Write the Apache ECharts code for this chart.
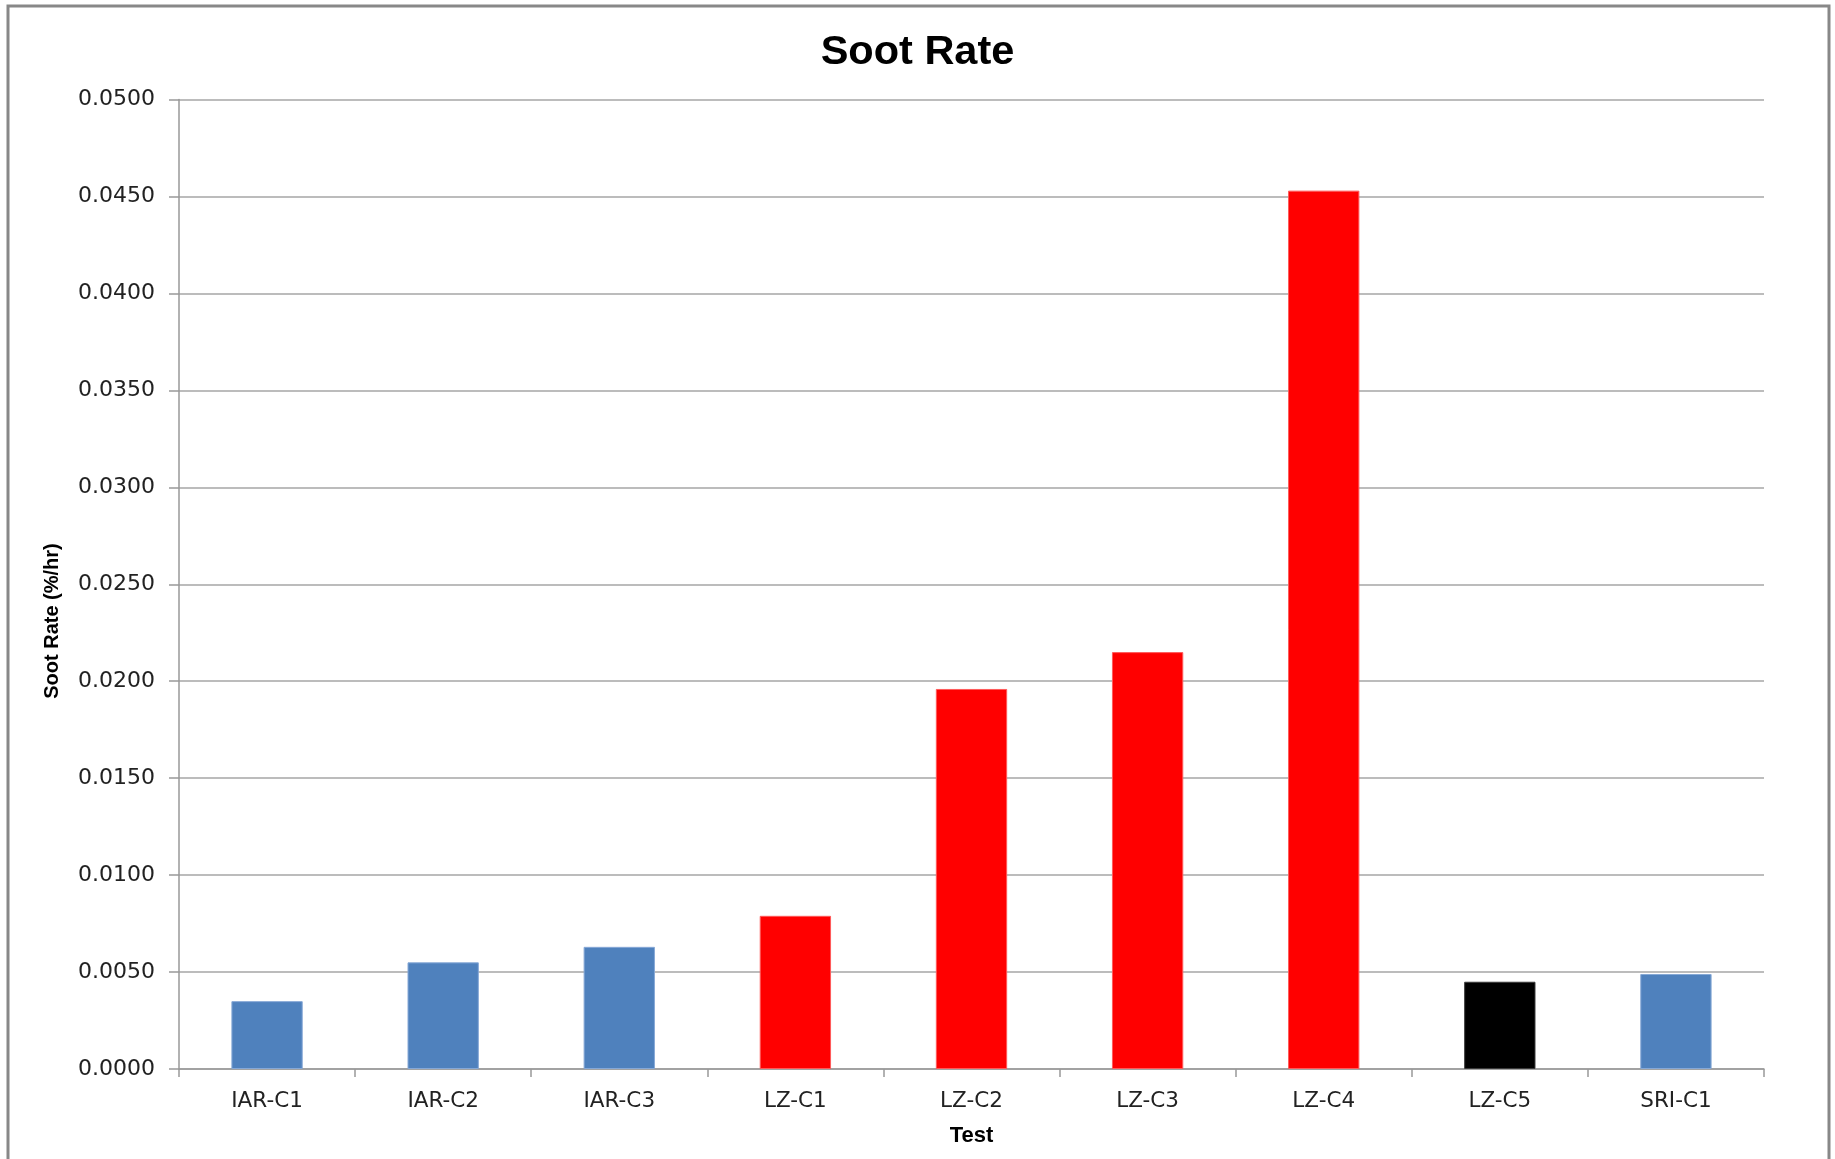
<!DOCTYPE html>
<html>
<head>
<meta charset="utf-8">
<title>Soot Rate</title>
<script src="https://cdn.jsdelivr.net/npm/echarts@6/dist/echarts.min.js"></script>
<style>
  html, body { margin: 0; padding: 0; background: #ffffff; }
  #chart { width: 1835px; height: 1159px; }
</style>
</head>
<body>
<div id="chart"></div>
<script>
// Test identifiers along the x axis
const categories = ['IAR-C1', 'IAR-C2', 'IAR-C3', 'LZ-C1', 'LZ-C2', 'LZ-C3', 'LZ-C4', 'LZ-C5', 'SRI-C1'];
// Soot rate per test (%/hr)
const sootRate = [0.0035, 0.0055, 0.0063, 0.0079, 0.0196, 0.0215, 0.0453, 0.0045, 0.0049];
// Fill group per test: IAR/SRI blue, LZ C1–C4 red, LZ-C5 black
const barGroup = ['blue', 'blue', 'blue', 'red', 'red', 'red', 'red', 'black', 'blue'];
// Y axis range
const yMin = 0;
const yMax = 0.05;
const yStep = 0.005;

const palette = {
  blue:  { fill: '#4F81BD', edge: '#86A8D6' },
  red:   { fill: '#FF0000', edge: '#FF5A5A' },
  black: { fill: '#000000', edge: '#3A3A3A' }
};

const chart = echarts.init(document.getElementById('chart'), null, { renderer: 'canvas' });

const option = {
  backgroundColor: '#ffffff',
  animation: false,
  title: {
    text: 'Soot Rate',
    left: 'center',
    top: 27,
    textStyle: {
      fontFamily: 'Liberation Sans',
      fontWeight: 'bold',
      fontSize: 41.5,
      color: '#000000'
    }
  },
  grid: {
    left: 179,
    right: 71,
    top: 99.5,
    bottom: 90
  },
  xAxis: {
    type: 'category',
    data: categories,
    name: 'Test',
    nameLocation: 'middle',
    nameGap: 56,
    nameTextStyle: {
      fontFamily: 'Liberation Sans',
      fontWeight: 'bold',
      fontSize: 22,
      color: '#000000'
    },
    axisLine: { lineStyle: { color: '#999999', width: 1.5 } },
    axisTick: { show: true, alignWithLabel: false, length: 8, lineStyle: { color: '#999999', width: 1.5 } },
    axisLabel: {
      fontFamily: 'DejaVu Sans',
      fontSize: 21.5,
      color: '#222222',
      margin: 21
    }
  },
  yAxis: {
    type: 'value',
    min: yMin,
    max: yMax,
    interval: yStep,
    axisLine: { show: true, lineStyle: { color: '#999999', width: 1.5 } },
    axisTick: { show: true, length: 10, lineStyle: { color: '#999999', width: 1.5 } },
    axisLabel: {
      fontFamily: 'DejaVu Sans',
      fontSize: 22,
      color: '#222222',
      margin: 24,
      formatter: v => v.toFixed(4)
    },
    splitLine: { show: true, lineStyle: { color: '#A6A6A6', width: 1.5 } }
  },
  series: [{
    type: 'bar',
    barWidth: '40.5%',
    data: sootRate.map((v, i) => ({
      value: v,
      itemStyle: {
        color: palette[barGroup[i]].fill,
        borderColor: palette[barGroup[i]].edge,
        borderWidth: 1
      }
    }))
  }],
  graphic: [
    {
      // chart frame (open at the bottom)
      type: 'rect',
      shape: { x: 8, y: 6, width: 1821, height: 1220 },
      style: { fill: 'none', stroke: '#888888', lineWidth: 3 },
      silent: true
    },
    {
      // y axis title
      type: 'text',
      x: 52,
      y: 621,
      rotation: Math.PI / 2,
      style: {
        text: 'Soot Rate (%/hr)',
        fontFamily: 'Liberation Sans',
        fontWeight: 'bold',
        fontSize: 20,
        fill: '#000000',
        align: 'center',
        verticalAlign: 'middle'
      }
    }
  ]
};

chart.setOption(option);
</script>
</body>
</html>
